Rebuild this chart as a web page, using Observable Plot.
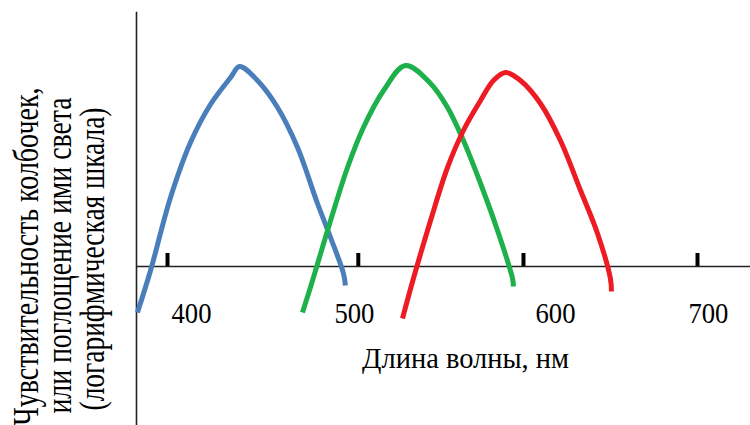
<!DOCTYPE html>
<html><head><meta charset="utf-8">
<script src="https://cdn.jsdelivr.net/npm/d3@7"></script>
<script src="https://cdn.jsdelivr.net/npm/@observablehq/plot@0.6"></script>
<style>body{margin:0;background:#fff;} #chart svg{display:block;}</style>
</head><body><div id="chart"></div>
<script>
// Wavelength axis (nm, drawn on the figure's approximate scale) and log-sensitivity values
const blueNm  = [383.0, 390.4, 401.7, 413.0, 424.3, 435.7, 440.8, 450.9, 462.3, 473.6, 484.9, 492.3, 499.6, 500.7];
const blueVal = [-0.46, -0.04, 0.69, 1.24, 1.62, 1.89, 2.00, 1.86, 1.59, 1.19, 0.63, 0.29, -0.07, -0.19];
const greenNm  = [476.4, 482.1, 492.3, 501.9, 510.9, 522.3, 534.7, 548.9, 558.5, 567.5, 577.2, 586.8, 595.3, 595.8];
const greenVal = [-0.46, -0.14, 0.46, 0.99, 1.39, 1.76, 2.01, 1.83, 1.59, 1.26, 0.83, 0.36, -0.12, -0.20];
const redNm  = [533.0, 539.2, 548.9, 558.5, 567.5, 577.2, 584.5, 591.3, 599.8, 611.1, 622.4, 633.8, 643.4, 650.7, 651.3];
const redVal = [-0.52, -0.12, 0.46, 0.99, 1.36, 1.66, 1.86, 1.94, 1.86, 1.63, 1.26, 0.76, 0.33, -0.12, -0.25];

const tickValues   = [400, 508, 601.5, 700];
const tickLabels   = ["400", "500", "600", "700"];
const tickLabelPos = [413.6, 505.8, 619.6, 706.2];
const xTitle = "Длина волны, нм";
const yTitleLines = ["Чувствительность колбочек,", "или поглощение ими света", "(логарифмическая шкала)"];

const seriesNames  = ["S-колбочки", "M-колбочки", "L-колбочки"];
const seriesColors = ["#4a7ebb", "#1db04b", "#ed1c24"];

const data = [];
[[blueNm, blueVal], [greenNm, greenVal], [redNm, redVal]].forEach(([xs, ys], s) => {
  xs.forEach((x, i) => data.push({series: seriesNames[s], nm: x, v: ys[i]}));
});

const font = "Liberation Serif, Times New Roman, serif";
const yDx = [-99, -65.5, -33];
const yDy = [37.5, 36.5, 40];
const yLen = [338, 316, 303];

const plot = Plot.plot({
  width: 750, height: 425,
  marginLeft: 136, marginRight: 0, marginTop: 12, marginBottom: 0,
  style: {fontFamily: font, background: "#fff"},
  x: {type: "linear", domain: [382.45, 730], axis: null},
  y: {domain: [-1.59, 2.54], axis: null},
  color: {type: "ordinal", domain: seriesNames, range: seriesColors},
  marks: [
    Plot.frame({anchor: "left", stroke: "#222", strokeWidth: 1.6}),
    Plot.ruleY([0], {stroke: "#222", strokeWidth: 1.6}),
    Plot.ruleX(tickValues, {y1: 0, y2: 0.13, stroke: "#000", strokeWidth: 4}),
    Plot.line(data, {x: "nm", y: "v", z: "series", stroke: "series", strokeWidth: 5, curve: "catmull-rom", strokeLinejoin: "round", strokeLinecap: "butt"}),
    Plot.text(tickLabels, {x: (d, i) => tickLabelPos[i], y: -0.465, text: d => d, fontSize: 30, fontFamily: font, fill: "#000"}),
    Plot.text([xTitle], {x: 568.7, y: -0.925, text: d => d, fontSize: 29, fontFamily: font, fill: "#000"}),
    ...yTitleLines.map((t, i) => Plot.text([t], {frameAnchor: "left", textAnchor: "middle", dx: yDx[i], dy: yDy[i], rotate: -90, lineAnchor: "bottom", text: d => d, fontSize: 35, fontFamily: font, fill: "#000"}))
  ]
});
document.getElementById("chart").appendChild(plot);
const svg = d3.select(plot);
const fit = (str, len) => svg.selectAll("text").filter(function () { return this.textContent === str; })
  .attr("textLength", len).attr("lengthAdjust", "spacingAndGlyphs");
yTitleLines.forEach((t, i) => fit(t, yLen[i]));
tickLabels.forEach(t => fit(t, 40));
fit(xTitle, 207);
</script>
</body></html>
